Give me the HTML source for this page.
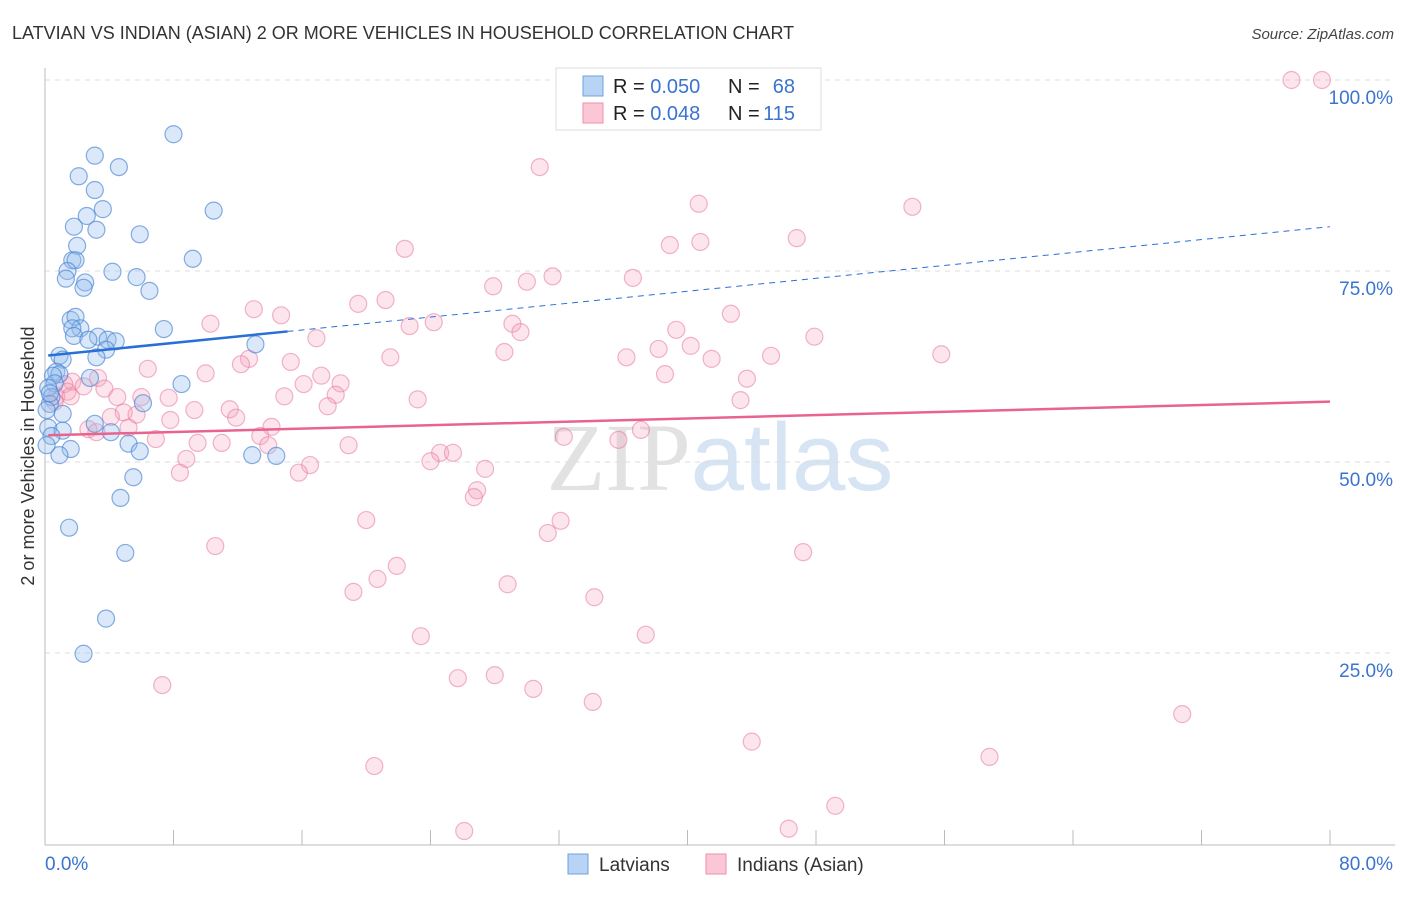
<!DOCTYPE html>
<html><head><meta charset="utf-8"><style>
body{margin:0;background:#fff;font-family:"Liberation Sans",sans-serif}
svg text{font-family:"Liberation Sans",sans-serif}
</style></head><body>
<svg id="chart" width="1406" height="892" xmlns="http://www.w3.org/2000/svg">
<text x="12" y="39" font-size="18" fill="#333">LATVIAN VS INDIAN (ASIAN) 2 OR MORE VEHICLES IN HOUSEHOLD CORRELATION CHART</text>
<text x="1394" y="39" font-size="15" fill="#444" font-style="italic" text-anchor="end">Source: ZipAtlas.com</text>
<text x="720" y="490" font-size="96" text-anchor="middle"><tspan fill="#e2e2e2" font-family="Liberation Serif">ZIP</tspan><tspan fill="#d6e4f4">atlas</tspan></text>
<g id="grid"></g>
<g id="axes"></g>
<g id="pts"></g>
<g id="trends"></g>
<text transform="translate(34,456) rotate(-90)" font-size="18" fill="#333" text-anchor="middle">2 or more Vehicles in Household</text>
<g>
<rect x="556" y="68" width="265" height="62" fill="#fff" stroke="#ddd"/>
<rect x="583" y="76" width="20" height="20" fill="#b8d4f5" stroke="#6fa1e0"/>
<rect x="583" y="103" width="20" height="20" fill="#fbc6d6" stroke="#ee92ae"/>
<text x="613" y="93" font-size="20" fill="#222">R = <tspan fill="#3a74cf">0.050</tspan></text>
<text x="728" y="93" font-size="20" fill="#222">N =</text>
<text x="795" y="93" font-size="20" fill="#3a74cf" text-anchor="end">68</text>
<text x="613" y="120" font-size="20" fill="#222">R = <tspan fill="#3a74cf">0.048</tspan></text>
<text x="728" y="120" font-size="20" fill="#222">N =</text>
<text x="795" y="120" font-size="20" fill="#3a74cf" text-anchor="end">115</text>
</g>
<g>
<rect x="568" y="854" width="20" height="20" fill="#b8d4f5" stroke="#6fa1e0"/>
<text x="599" y="871" font-size="19" fill="#333">Latvians</text>
<rect x="706" y="854" width="20" height="20" fill="#fbc6d6" stroke="#ee92ae"/>
<text x="737" y="871" font-size="19" fill="#333">Indians (Asian)</text>
</g>
</svg>
<script>
const latX=[8.0,3.1,4.6,2.1,3.1,3.6,10.5,2.6,1.8,3.2,5.9,2.0,1.7,1.9,9.2,1.4,4.2,5.7,1.3,2.5,2.4,6.5,1.6,1.9,2.2,1.7,7.4,1.8,3.3,2.7,3.9,4.4,13.1,3.8,3.2,0.9,1.1,0.7,0.9,0.5,2.8,8.5,0.6,0.2,0.4,0.3,6.1,1.1,3.1,0.2,1.1,4.1,0.4,5.2,1.6,0.9,5.9,12.9,14.4,5.5,4.7,1.5,5.0,3.8,2.4,0.1,0.1,0.3];
const latY=[92.9,90.1,88.6,87.4,85.6,83.1,82.9,82.2,80.8,80.4,79.8,78.3,76.4,76.4,76.6,75.0,74.9,74.2,74.0,73.5,72.8,72.4,68.6,69.0,67.5,67.5,67.4,66.5,66.4,66.0,66.0,65.8,65.4,64.7,63.7,63.9,63.4,61.8,61.5,61.3,61.0,60.2,60.3,59.7,58.5,57.6,57.7,56.3,55.0,54.5,54.1,53.9,53.4,52.4,51.7,50.9,51.4,50.9,50.8,48.0,45.3,41.4,38.1,29.5,24.9,52.2,56.8,59.0];
const indX=[77.6,79.5,30.8,40.7,54.0,22.4,40.8,38.9,46.8,31.6,36.6,27.9,30.0,21.2,19.5,13.0,14.7,42.7,10.3,24.2,22.7,29.1,29.6,39.3,47.9,16.9,38.2,40.2,28.6,36.2,41.5,45.2,55.8,21.5,12.7,12.2,15.3,6.4,10.0,38.6,17.2,43.7,16.1,18.4,3.3,1.7,1.2,3.7,2.4,1.4,0.7,1.6,14.9,18.1,4.5,6.0,7.7,23.2,43.3,0.6,17.6,9.3,11.5,4.9,4.1,5.7,11.9,7.8,2.7,14.1,5.2,3.2,13.4,6.9,9.5,11.0,13.9,18.9,37.1,32.3,35.7,24.6,25.4,24.0,8.8,16.5,15.8,8.4,27.4,26.9,26.7,20.0,32.1,31.3,10.6,47.2,21.9,20.7,28.8,19.2,34.2,23.4,37.4,7.3,25.7,28.0,30.4,34.1,70.8,44.0,58.8,20.5,49.2,26.1,46.3];
const indY=[100,100,88.6,83.8,83.4,77.9,78.8,78.4,79.3,74.3,74.1,73.0,73.6,71.2,70.7,70.0,69.2,69.4,68.1,68.3,67.8,68.1,67.0,67.3,66.4,66.2,64.8,65.2,64.4,63.7,63.5,63.9,64.1,63.7,63.5,62.8,63.1,62.2,61.6,61.5,61.3,60.9,60.2,60.3,61.0,60.5,60.2,59.6,59.9,59.2,58.6,58.6,58.6,58.8,58.5,58.5,58.4,58.2,58.1,57.9,57.3,56.8,56.9,56.5,55.9,56.2,55.8,55.5,54.3,54.6,54.5,53.9,53.4,53.0,52.5,52.5,52.2,52.2,54.2,53.3,52.9,51.2,51.2,50.1,50.4,49.6,48.6,48.6,49.1,46.3,45.4,42.4,42.3,40.7,39.0,38.2,36.4,34.7,34.0,33.0,32.3,27.2,27.4,20.8,21.7,22.1,20.3,18.6,17.0,13.4,11.4,10.2,5.0,1.7,2.0];
const latTrend=[63.9,80.8], latSolidEnd=15.1;
const indTrend=[53.5,57.9];
const yTicks=[25,50,75,100];
const xTicks=[0,8,16,24,32,40,48,56,64,72,80];
const NS='http://www.w3.org/2000/svg';
const sx=v=>45+v/80*1285, sy=v=>844-v/100*764;
function mk(t,a,p){const e=document.createElementNS(NS,t);for(const k in a)e.setAttribute(k,a[k]);p.appendChild(e);return e;}
const grid=document.getElementById('grid'),axes=document.getElementById('axes'),pts=document.getElementById('pts'),tr=document.getElementById('trends');
yTicks.forEach(v=>{const l=mk('line',{x1:45,x2:1395,y1:sy(v),y2:sy(v),stroke:'#ddd','stroke-dasharray':'5,5'},grid);


const t=mk('text',{x:1393,y:sy(v)+24,'font-size':19,fill:'#3a74cf','text-anchor':'end'},axes);t.textContent=v.toFixed(1)+'%';

});
const ax=mk('line',{x1:45,x2:1395,y1:845,y2:845,stroke:'#bbb'},axes);


const ay=mk('line',{x1:45,x2:45,y1:68,y2:845,stroke:'#bbb'},axes);


xTicks.forEach(v=>{const l=mk('line',{x1:sx(v),x2:sx(v),y1:830,y2:845,stroke:'#bbb'},axes);

});
[[0,'start',45],[80,'end',1393]].forEach(([v,a,x])=>{const t=mk('text',{x:x,y:870,'font-size':19,fill:'#3a74cf','text-anchor':a},axes);t.textContent=v.toFixed(1)+'%';

});
indX.forEach((x,i)=>{const c=mk('circle',{cx:sx(x),cy:sy(indY[i]),r:8.5,fill:'rgba(246,160,188,0.28)',stroke:'rgba(232,120,158,0.55)','stroke-width':1.2},pts);

});
latX.forEach((x,i)=>{const c=mk('circle',{cx:sx(x),cy:sy(latY[i]),r:8.5,fill:'rgba(150,190,238,0.35)',stroke:'rgba(70,130,210,0.65)','stroke-width':1.2},pts);

});
const ly=x=>latTrend[0]+(latTrend[1]-latTrend[0])*x/80;
const a=mk('line',{x1:sx(0.2),y1:sy(ly(0.2)),x2:sx(latSolidEnd),y2:sy(ly(latSolidEnd)),stroke:'#2a6fd6','stroke-width':2.5},tr);


const b=mk('line',{x1:sx(latSolidEnd),y1:sy(ly(latSolidEnd)),x2:sx(80),y2:sy(ly(80)),stroke:'#2a6fd6','stroke-width':1,'stroke-dasharray':'6,5'},tr);


const c=mk('line',{x1:sx(0.2),y1:sy(indTrend[0]),x2:sx(80),y2:sy(indTrend[1]),stroke:'#e8648f','stroke-width':2.5},tr);


</script>
</body></html>
